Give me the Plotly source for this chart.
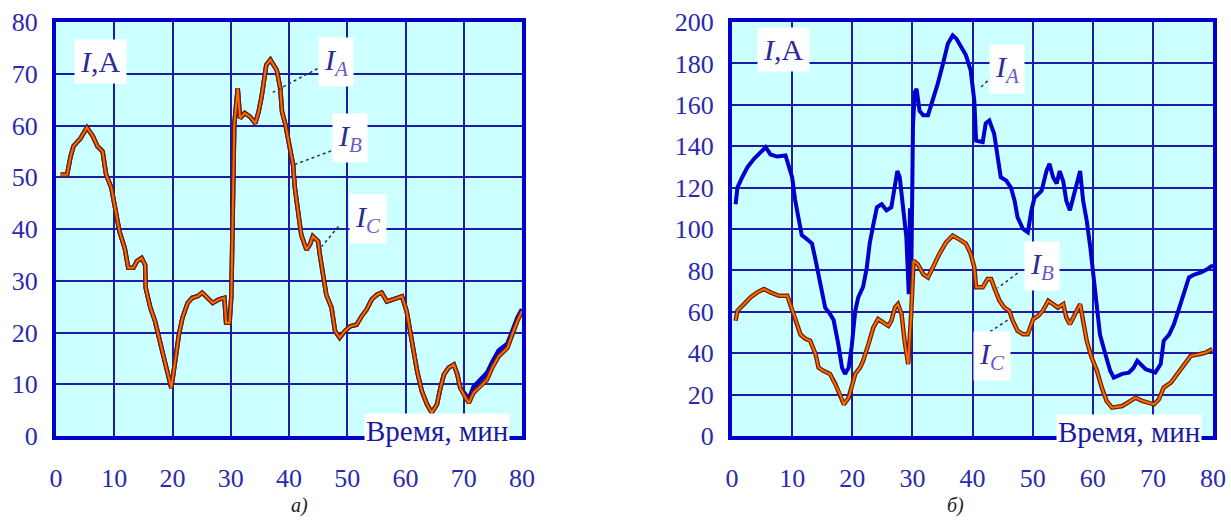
import plotly.graph_objects as go

# ---------------- data ----------------
# chart a): (time [min], current [A])
left_ia = [(0.8, 50.5), (1.9, 50.5), (2.5, 54), (3.0, 56), (4.2, 57.5), (5.3, 59.6), (6.3, 58), (7.1, 56),
           (8.0, 55), (8.6, 50.5), (9.5, 48), (10.3, 43.4), (10.9, 39.5), (11.8, 36.3), (12.4, 32.5),
           (13.3, 32.5), (13.9, 33.8), (14.7, 34.4), (15.3, 33.1), (15.4, 28.6), (16.2, 24.8), (17.0, 22.2),
           (17.9, 17.7), (18.8, 13.8), (19.8, 9.3), (20.5, 15.1), (21.1, 19.6), (21.7, 22.8), (22.6, 25.7),
           (23.4, 26.7), (24.3, 27), (25.1, 27.7), (26.0, 26.7), (26.9, 25.7), (28.0, 26.4), (28.9, 26.7),
           (29.2, 21.9), (29.8, 21.9), (30.1, 27), (30.3, 44), (30.6, 60.1), (31.2, 67.2), (31.6, 61.4),
           (32.4, 62.4), (33.3, 61.7), (34.2, 60.4), (34.8, 62.7), (35.3, 65.6), (36.1, 71.7), (36.8, 72.7),
           (37.9, 70.7), (38.5, 67.2), (38.8, 62.7), (39.4, 60.1), (40.1, 55.6), (40.7, 52.4), (41.0, 48),
           (41.6, 43.4), (42.1, 38.9), (43.0, 36), (43.6, 37), (44.1, 38.6), (45.0, 37.6), (45.3, 35),
           (45.9, 31.2), (46.4, 27.3), (47.3, 24.8), (47.9, 20.3), (48.7, 19), (49.6, 20.3), (50.5, 21.2),
           (51.6, 21.5), (52.5, 23.2), (53.3, 24.4), (54.2, 26.4), (55.1, 27.3), (55.9, 27.7), (56.8, 26),
           (57.9, 26.4), (59.4, 27), (60.2, 24.1), (60.8, 20.3), (61.4, 16.4), (62.0, 12.5), (62.8, 8.7),
           (63.7, 6.1), (64.5, 4.5), (65.4, 6.1), (66.0, 9.3), (66.6, 11.9), (67.4, 13.2), (68.3, 13.8),
           (68.9, 11.9), (69.4, 9.3), (70.3, 8.0), (70.9, 7.2), (71.7, 9.5), (72.9, 10.8), (74.0, 12.2),
           (74.9, 14.3), (76.0, 16.5), (77.5, 17.8), (78.3, 20.2), (79.2, 22.8), (80.0, 24.5)]
# I_B and I_C coincide on the picture of chart a)
left_ibc = [(0.8, 50.5), (1.9, 50.5), (2.5, 54), (3.0, 56), (4.2, 57.5), (5.3, 59.6), (6.3, 58), (7.1, 56),
            (8.0, 55), (8.6, 50.5), (9.5, 48), (10.3, 43.4), (10.9, 39.5), (11.8, 36.3), (12.4, 32.5),
            (13.3, 32.5), (13.9, 33.8), (14.7, 34.4), (15.3, 33.1), (15.4, 28.6), (16.2, 24.8), (17.0, 22.2),
            (17.9, 17.7), (18.8, 13.8), (19.8, 9.3), (20.5, 15.1), (21.1, 19.6), (21.7, 22.8), (22.6, 25.7),
            (23.4, 26.7), (24.3, 27), (25.1, 27.7), (26.0, 26.7), (26.9, 25.7), (28.0, 26.4), (28.9, 26.7),
            (29.2, 21.9), (29.8, 21.9), (30.1, 27), (30.3, 44), (30.6, 60.1), (31.2, 67.2), (31.6, 61.4),
            (32.4, 62.4), (33.3, 61.7), (34.2, 60.4), (34.8, 62.7), (35.3, 65.6), (36.1, 71.7), (36.8, 72.7),
            (37.9, 70.7), (38.5, 67.2), (38.8, 62.7), (39.4, 60.1), (40.1, 55.6), (40.7, 52.4), (41.0, 48),
            (41.6, 43.4), (42.1, 38.9), (43.0, 36), (43.6, 37), (44.1, 38.6), (45.0, 37.6), (45.3, 35),
            (45.9, 31.2), (46.4, 27.3), (47.3, 24.8), (47.9, 20.3), (48.7, 19), (49.6, 20.3), (50.5, 21.2),
            (51.6, 21.5), (52.5, 23.2), (53.3, 24.4), (54.2, 26.4), (55.1, 27.3), (55.9, 27.7), (56.8, 26),
            (57.9, 26.4), (59.4, 27), (60.2, 24.1), (60.8, 20.3), (61.4, 16.4), (62.0, 12.5), (62.8, 8.7),
            (63.7, 6.1), (64.5, 4.5), (65.4, 6.1), (66.0, 9.3), (66.6, 11.9), (67.4, 13.2), (68.3, 13.8),
            (68.9, 11.9), (69.4, 9.3), (70.3, 7.4), (70.9, 6.4), (71.7, 8.4), (72.9, 9.6), (74.0, 10.9),
            (74.9, 13.2), (76.0, 15.4), (77.5, 17.0), (78.3, 19.6), (79.2, 22.2), (80.0, 24.1)]

# chart б)
right_ia = [(0.6, 112), (0.9, 120), (1.7, 125), (2.6, 130), (3.7, 134), (4.8, 137), (5.6, 139.5), (6.4, 136),
            (7.5, 135), (8.9, 135.5), (9.4, 130), (10.0, 125), (10.5, 114), (11.1, 104), (11.6, 97), (12.5, 95),
            (13.3, 93), (13.9, 85), (14.4, 77), (15.0, 68.5), (15.5, 62), (16.3, 59), (16.9, 56), (17.7, 44),
            (18.3, 33), (18.8, 30), (19.4, 33), (19.9, 43), (20.5, 60.5), (21.0, 67), (21.8, 72), (22.4, 81),
            (22.9, 93), (23.5, 102), (24.1, 110.5), (24.9, 112), (25.7, 109), (26.5, 110.5), (27.1, 123),
            (27.5, 128), (27.9, 125), (28.5, 107), (29.0, 96), (29.4, 68.5), (29.6, 110), (29.8, 72),
            (30.1, 150), (30.4, 166), (30.7, 167.7), (31.2, 157), (31.8, 155), (32.6, 155), (33.4, 162),
            (34.2, 170), (35.1, 180), (35.9, 189.5), (36.7, 193.5), (37.3, 192), (38.1, 188), (38.9, 184),
            (39.7, 176.6), (40.3, 162), (40.6, 142.7), (41.7, 142), (42.2, 151), (42.8, 152.4), (43.6, 146),
            (44.2, 136), (44.7, 125), (45.6, 123.4), (46.4, 120), (47.0, 113.7), (47.5, 105.6), (48.4, 100),
            (49.2, 98.4), (49.8, 109), (50.3, 115), (51.5, 118.5), (52.3, 128), (52.8, 131.5), (53.4, 125),
            (54.0, 122), (54.5, 128), (55.1, 123), (55.6, 113.7), (56.2, 109), (57.0, 118.5), (57.9, 128),
            (58.4, 113.7), (59.0, 104), (59.6, 91), (60.1, 76.6), (60.7, 60.5), (61.2, 49), (62.1, 39.5),
            (62.9, 31.5), (63.5, 28.2), (64.9, 30), (66.0, 30.6), (66.8, 33), (67.4, 36.3), (67.9, 34.7),
            (68.8, 32.3), (69.6, 31.5), (70.4, 30.6), (71.3, 34.7), (71.8, 46), (72.7, 49), (73.5, 54),
            (74.4, 62), (75.2, 70), (76.0, 76.6), (76.9, 78), (78.0, 79), (79.1, 80.6), (79.7, 82), (80.0, 82)]
# I_B and I_C coincide on the picture of chart б)
right_ibc = [(0.6, 55.6), (0.9, 60.5), (2.0, 63.7), (3.1, 67), (4.2, 69.4), (5.3, 71), (6.4, 69.4), (7.8, 67.7),
             (9.2, 67.7), (9.7, 63.7), (10.5, 57), (11.4, 49), (12.2, 47), (13.0, 46), (13.9, 39.5), (14.4, 33),
             (15.2, 31.5), (16.3, 30), (17.2, 25), (18.0, 20), (18.6, 15.3), (19.4, 18.5), (19.9, 23.4),
             (20.5, 30), (21.3, 33), (21.8, 36.3), (22.7, 44.4), (23.5, 52.4), (24.3, 56.5), (25.1, 55),
             (26.0, 53.2), (26.5, 55.6), (27.1, 62), (27.6, 63.7), (28.2, 58.9), (28.7, 46), (29.3, 34.7),
             (29.8, 58.9), (30.2, 84.7), (30.9, 83), (31.8, 78.2), (32.6, 76.6), (33.4, 81.5), (34.5, 88),
             (35.6, 93.5), (36.7, 96.8), (37.8, 95), (38.9, 93), (39.7, 88), (40.3, 81.5), (40.6, 71.8),
             (41.7, 71.8), (42.5, 75.8), (43.1, 75.8), (43.6, 71.8), (44.5, 65.3), (45.3, 62), (46.1, 60.5),
             (46.7, 55.6), (47.5, 50.8), (48.4, 49.2), (49.2, 49.2), (50.1, 56.5), (50.9, 58), (51.7, 60.5),
             (52.6, 65.3), (53.4, 63.7), (54.2, 62), (55.1, 63.7), (55.6, 57.3), (56.2, 54), (57.0, 58.9),
             (57.9, 63.7), (58.4, 55.6), (59.0, 46), (59.8, 38), (60.7, 31.5), (61.5, 23.4), (62.3, 17),
             (63.2, 13.7), (64.9, 14.5), (66.3, 17), (67.1, 18.5), (68.2, 17), (69.3, 16.1), (70.2, 15.3),
             (71.0, 17.7), (71.8, 23.4), (73.0, 25.8), (74.1, 30), (75.2, 34.7), (76.3, 38.7), (77.7, 39.5),
             (78.8, 40.3), (79.9, 42)]

x_ticks = [0, 10, 20, 30, 40, 50, 60, 70, 80]
left_y_ticks = [0, 10, 20, 30, 40, 50, 60, 70, 80]
right_y_ticks = [0, 20, 40, 60, 80, 100, 120, 140, 160, 180, 200]

# ---------------- styles ----------------
BLUE = "#0000cc"
BROWN = "#6e2200"
ORANGE = "#ff6a00"
GRID = "#1c1ca8"
TICKC = "#2a2ab0"
SERIF = "Liberation Serif"


def xy(pairs):
    return [p[0] for p in pairs], [p[1] for p in pairs]


fig = go.Figure()


def add_series(pairs, axes, color, width, name):
    x, y = xy(pairs)
    fig.add_trace(go.Scatter(x=x, y=y, mode="lines", name=name, line=dict(color=color, width=width),
                             xaxis=axes[0], yaxis=axes[1], showlegend=False, hoverinfo="x+y+name"))


# chart a)
add_series(left_ia, ("x", "y"), BLUE, 4.5, "IA")
add_series(left_ibc, ("x", "y"), BROWN, 4.5, "IB")
add_series(left_ibc, ("x", "y"), ORANGE, 2.0, "IC")
# chart б)
add_series(right_ia, ("x2", "y2"), BLUE, 4.0, "IA")
add_series(right_ibc, ("x2", "y2"), BROWN, 4.5, "IB")
add_series(right_ibc, ("x2", "y2"), ORANGE, 2.0, "IC")

# the page body margin is removed by a small post script, so the figure fills the window
W, H = 1231, 520


def px_x(p):
    return p / W


def px_y(p):
    return (H - p) / H


def ax_common():
    return dict(showgrid=True, gridcolor=GRID, gridwidth=2.2, showline=True, linecolor=BLUE, linewidth=4,
                mirror=True, ticks="", zeroline=False, fixedrange=True, automargin=False,
                tickfont=dict(family=SERIF, size=26, color=TICKC))


yd = [px_y(436), px_y(22)]
fig.update_layout(
    width=W, height=H,
    margin=dict(l=0, r=0, t=0, b=0, pad=0),
    paper_bgcolor="white", plot_bgcolor="#ccffff",
    xaxis=dict(**ax_common(), domain=[px_x(56), px_x(522)], range=[0, 80], tickvals=x_ticks,
               ticklabelstandoff=16, ticklabeloverflow="allow", anchor="y"),
    yaxis=dict(**ax_common(), domain=yd, range=[0, 80], tickvals=left_y_ticks, ticklabelstandoff=9,
               anchor="x"),
    xaxis2=dict(**ax_common(), domain=[px_x(732), px_x(1213)], range=[0, 80], tickvals=x_ticks,
                ticklabelstandoff=16, ticklabeloverflow="allow", anchor="y2"),
    yaxis2=dict(**ax_common(), domain=yd, range=[0, 200], tickvals=right_y_ticks, ticklabelstandoff=9,
                anchor="x2"),
)

LABC = "#2b2b9a"
SUBC = "#6a58d0"


def lab(sub):
    return f"<i>I</i><sub><span style='color:{SUBC}'><i>{sub}</i></span></sub>"


annos = [
    # chart a)
    dict(x=7.6, y=72.3, xref="x", yref="y", text="<i>I</i>,A"),
    dict(x=48.0, y=72.3, xref="x", yref="y", text=lab("A")),
    dict(x=50.4, y=57.6, xref="x", yref="y", text=lab("B")),
    dict(x=53.5, y=42.0, xref="x", yref="y", text=lab("C")),
    # chart б)
    dict(x=8.5, y=186.6, xref="x2", yref="y2", text="<i>I</i>,A"),
    dict(x=45.8, y=177.5, xref="x2", yref="y2", text=lab("A")),
    dict(x=51.5, y=82.0, xref="x2", yref="y2", text=lab("B")),
    dict(x=43.3, y=38.8, xref="x2", yref="y2", text=lab("C")),
]
for a in annos:
    fig.add_annotation(**a, showarrow=False, bgcolor="white", borderpad=5,
                       font=dict(family=SERIF, size=30, color=LABC))

for xr, yr, xv, yv in [("x", "y", 65.4, 0.9), ("x2", "y2", 66.0, 2.0)]:
    fig.add_annotation(x=xv, y=yv, xref=xr, yref=yr, text="Время, мин", showarrow=False,
                       bgcolor="white", borderpad=1, font=dict(family=SERIF, size=29, color="#1a1aa0"))

for xv, t in [(px_x(290), "а)"), (px_x(965), "б)")]:
    fig.add_annotation(x=xv, y=px_y(505), xref="paper", yref="paper", yanchor="middle",
                       text=f"<i>{t}</i>", showarrow=False, borderpad=0,
                       font=dict(family=SERIF, size=20, color="#1a1a33"))

# leader lines from labels to curves
leaders = [
    ("x", "y", 44.9, 71.0, 37.2, 66.4),
    ("x", "y", 48.2, 55.5, 40.6, 52.3),
    ("x", "y", 48.5, 40.5, 45.6, 36.6),
    ("x2", "y2", 44.7, 177.5, 41.2, 168.0),
    ("x2", "y2", 47.5, 78.7, 44.2, 71.5),
    ("x2", "y2", 42.9, 50.4, 46.4, 57.0),
]
for xr, yr, x0, y0, x1, y1 in leaders:
    fig.add_shape(type="line", xref=xr, yref=yr, x0=x0, y0=y0, x1=x1, y1=y1,
                  line=dict(color="#333333", width=1.5, dash="dot"))

fig.write_html("out.html", config={"displayModeBar": False},
               post_script="document.body.style.margin='0px';document.body.style.overflow='hidden';")
